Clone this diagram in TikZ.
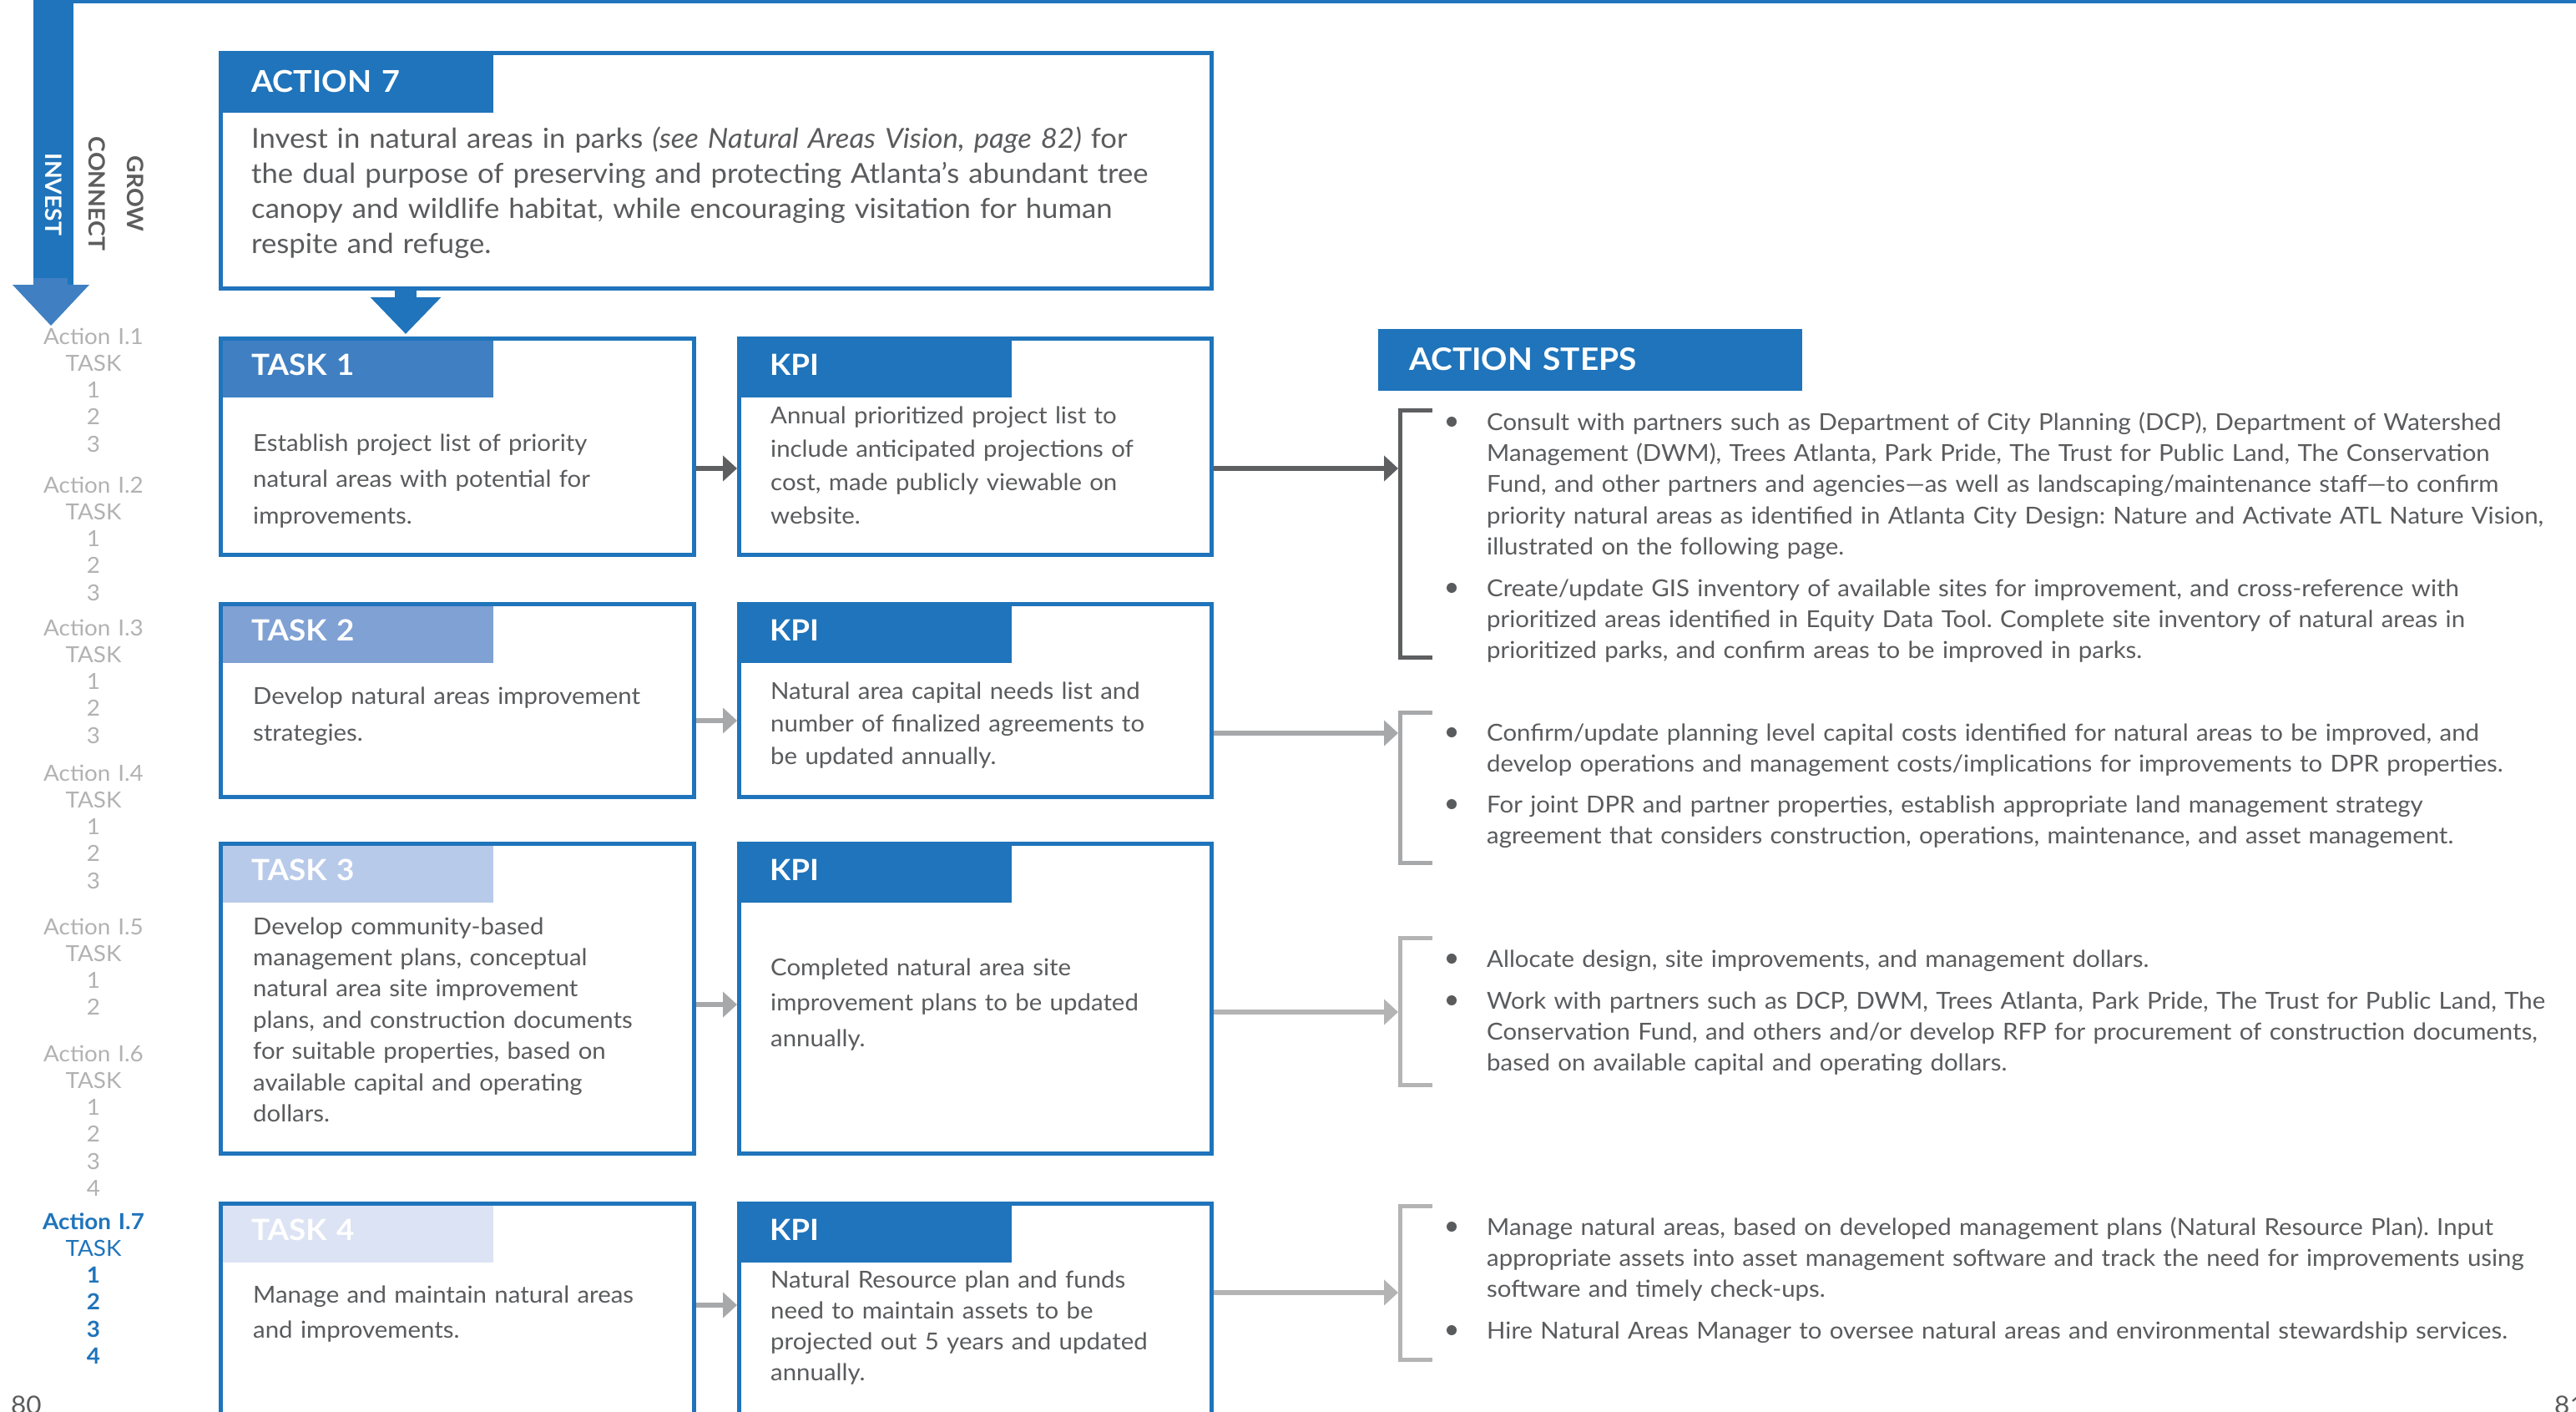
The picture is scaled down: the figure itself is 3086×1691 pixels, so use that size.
\documentclass[tikz,border=0pt]{standalone}
\usepackage{fontspec}
\setmainfont{Lato}[FakeStretch=1.05]
\usetikzlibrary{arrows.meta}

\definecolor{pblue}{HTML}{1F74BB}
\definecolor{plight}{HTML}{3F7FC2}
\definecolor{hdone}{HTML}{3F7FC2}
\definecolor{hdtwo}{HTML}{7FA1D4}
\definecolor{hdthree}{HTML}{B8CAE9}
\definecolor{hdfour}{HTML}{DCE3F4}
\definecolor{ptext}{HTML}{5A5B5D}
\definecolor{pdark}{HTML}{5E5F61}
\definecolor{pgrey}{HTML}{A7A8AA}
\definecolor{pgreyl}{HTML}{B4B4B4}
\definecolor{pside}{HTML}{B2B2B2}
\definecolor{pword}{HTML}{5D5D5D}

\newcommand\hdfont{\fontsize{35}{40}\selectfont\bfseries}
\newcommand\bodyfont[1]{\fontsize{28}{#1}\selectfont}
\frenchspacing

\begin{document}
\begin{tikzpicture}[x=1pt,y=-1pt,
  box/.style={draw=pblue, line width=5pt, outer sep=2.5pt, inner sep=0pt,
    anchor=north west, fill=white},
  head/.style={anchor=north west, inner xsep=34pt, inner ysep=0pt,
    minimum height=68pt, text width=256pt, align=left, text=white,
    font=\hdfont, text height=25pt, text depth=11pt},
  body/.style={anchor=base west, inner sep=0pt, text width=#1, align=left,
    text=ptext},
  side/.style={anchor=base, inner sep=0pt, text width=200pt, align=center,
    text=pside, font=\fontsize{26.5}{32.3}\selectfont},
  word/.style={rotate=-90, inner sep=0pt, font=\fontsize{27}{30}\selectfont\bfseries},
  brk/.style={line width=5pt, line cap=butt, line join=miter},
  brknode/.style={anchor=north west, inner sep=0pt, outer sep=0pt, minimum width=41pt},
  flow/.style={line width=6.5pt, -{Triangle[length=17pt,width=30pt]}},
  dot/.style={circle, fill=ptext, inner sep=0pt, minimum size=12pt},
  pagenum/.style={anchor=base west, inner sep=0pt, text=ptext, font=\fontsize{30}{30}\selectfont}
]
\useasboundingbox (0,0) rectangle (3086,1691);
\fill[white] (0,0) rectangle (3086,1691);

% top rule and the INVEST column with its arrow head
\fill[pblue] (40,0) rectangle (3086,4);
\fill[pblue] (40,0) rectangle (88,341);
\fill[plight] (40,333) rectangle (81,341);
\fill[plight] (15,341) -- (107,341) -- (61,390) -- cycle;
\node[word, text=white] (invest) at (64,233) {INVEST};
\node[word, text=pword] (connect) at (116,232) {CONNECT};
\node[word, text=pword] (grow) at (162,232) {GROW};

% side index
\node[side] (s1) at (112,412) {Action I.1\\TASK\\1\\2\\3};
\node[side] (s2) at (112,590) {Action I.2\\TASK\\1\\2\\3};
\node[side] (s3) at (112,761) {Action I.3\\TASK\\1\\2\\3};
\node[side] (s4) at (112,935) {Action I.4\\TASK\\1\\2\\3};
\node[side] (s5) at (112,1119) {Action I.5\\TASK\\1\\2};
\node[side] (s6) at (112,1271) {Action I.6\\TASK\\1\\2\\3\\4};
\node[side, text=pblue] (s7) at (112,1472) {\textbf{Action I.7}\\TASK\\\textbf{1}\\\textbf{2}\\\textbf{3}\\\textbf{4}};

% action box
\node[box, minimum width=1187pt, minimum height=282pt] (act) at (262,61) {};
\node[head, fill=pblue, text height=27pt, text depth=8pt, minimum height=69pt,
  font=\fontsize{36}{40}\selectfont\bfseries] (acth) at ([xshift=5pt,yshift=-5pt]act.north west) {ACTION 7};
\node[body=1120pt, font=\fontsize{33}{42}\selectfont] (actt) at (301,177)
  {Invest in natural areas in parks \textit{(see Natural Areas Vision, page 82)} for\\
   the dual purpose of preserving and protecting Atlanta’s abundant tree\\
   canopy and wildlife habitat, while encouraging visitation for human\\
   respite and refuge.};

% task and KPI boxes
\node[box, minimum width=567pt, minimum height=259pt] (t1) at (262,403) {};
\node[box, minimum width=566pt, minimum height=259pt] (k1) at (883,403) {};
\node[box, minimum width=567pt, minimum height=231pt] (t2) at (262,721) {};
\node[box, minimum width=566pt, minimum height=231pt] (k2) at (883,721) {};
\node[box, minimum width=567pt, minimum height=371pt] (t3) at (262,1008) {};
\node[box, minimum width=566pt, minimum height=371pt] (k3) at (883,1008) {};
\node[box, minimum width=567pt, minimum height=340pt] (t4) at (262,1439) {};
\node[box, minimum width=566pt, minimum height=340pt] (k4) at (883,1439) {};

\node[head, fill=hdone] (t1h) at ([xshift=5pt,yshift=-5pt]t1.north west) {TASK 1};
\node[head, fill=pblue] (k1h) at ([xshift=5pt,yshift=-5pt]k1.north west) {KPI};
\node[head, fill=hdtwo] (t2h) at ([xshift=5pt,yshift=-5pt]t2.north west) {TASK 2};
\node[head, fill=pblue] (k2h) at ([xshift=5pt,yshift=-5pt]k2.north west) {KPI};
\node[head, fill=hdthree] (t3h) at ([xshift=5pt,yshift=-5pt]t3.north west) {TASK 3};
\node[head, fill=pblue] (k3h) at ([xshift=5pt,yshift=-5pt]k3.north west) {KPI};
\node[head, fill=hdfour] (t4h) at ([xshift=5pt,yshift=-5pt]t4.north west) {TASK 4};
\node[head, fill=pblue] (k4h) at ([xshift=5pt,yshift=-5pt]k4.north west) {KPI};

\node[body=520pt, font=\bodyfont{43.5}] (t1t) at (303,540)
  {Establish project list of priority\\natural areas with potential for\\improvements.};
\node[body=520pt, font=\bodyfont{40}] (k1t) at (923,507)
  {Annual prioritized project list to\\include anticipated projections of\\cost, made publicly viewable on\\website.};
\node[body=520pt, font=\bodyfont{44}] (t2t) at (303,843)
  {Develop natural areas improvement\\strategies.};
\node[body=520pt, font=\bodyfont{39}] (k2t) at (923,837)
  {Natural area capital needs list and\\number of finalized agreements to\\be updated annually.};
\node[body=520pt, font=\bodyfont{37.4}] (t3t) at (303,1119)
  {Develop community-based\\management plans, conceptual\\natural area site improvement\\plans, and construction documents\\for suitable properties, based on\\available capital and operating\\dollars.};
\node[body=520pt, font=\bodyfont{42.5}] (k3t) at (923,1168)
  {Completed natural area site\\improvement plans to be updated\\annually.};
\node[body=520pt, font=\bodyfont{42}] (t4t) at (303,1560)
  {Manage and maintain natural areas\\and improvements.};
\node[body=520pt, font=\bodyfont{37}] (k4t) at (923,1542)
  {Natural Resource plan and funds\\need to maintain assets to be\\projected out 5 years and updated\\annually.};

% action to first task
\draw[pblue, line width=26pt, -{Triangle[length=44pt,width=82pt]}, shorten >=3pt]
  ([xshift=224pt]act.south west) -- ([xshift=224pt]t1.north west);

% task to KPI
\draw[flow, pdark] ([yshift=-158pt]t1.north east) -- ([yshift=-158pt]k1.north west);
\draw[flow, pgrey] ([yshift=-142pt]t2.north east) -- ([yshift=-142pt]k2.north west);
\draw[flow, pgrey] ([yshift=-195pt]t3.north east) -- ([yshift=-195pt]k3.north west);
\draw[flow, pgrey] ([yshift=-124pt]t4.north east) -- ([yshift=-124pt]k4.north west);

% action steps
\node[anchor=north west, fill=pblue, inner xsep=37pt, inner ysep=0pt, minimum height=74pt,
  text width=434pt, align=left, text=white, font=\fontsize{37}{40}\selectfont\bfseries,
  text height=26pt, text depth=2pt] (steps) at (1651,394) {ACTION STEPS};

\node[brknode, minimum height=301pt] (b1) at (1675,489) {};
\node[brknode, minimum height=185pt] (b2) at (1675,851) {};
\node[brknode, minimum height=181pt] (b3) at (1675,1121) {};
\node[brknode, minimum height=189pt] (b4) at (1675,1442) {};
\draw[brk, pdark] ([yshift=-2.5pt]b1.north east) -| ([xshift=2.5pt]b1.west) |- ([yshift=2.5pt]b1.south east);
\draw[brk, pgrey] ([yshift=-2.5pt]b2.north east) -| ([xshift=2.5pt]b2.west) |- ([yshift=2.5pt]b2.south east);
\draw[brk, pgreyl] ([yshift=-2.5pt]b3.north east) -| ([xshift=2.5pt]b3.west) |- ([yshift=2.5pt]b3.south east);
\draw[brk, pgreyl] ([yshift=-2.5pt]b4.north east) -| ([xshift=2.5pt]b4.west) |- ([yshift=2.5pt]b4.south east);

\coordinate (c1) at ([yshift=-158pt]k1.north east);
\coordinate (c2) at ([yshift=-157pt]k2.north east);
\coordinate (c3) at ([yshift=-204pt]k3.north east);
\coordinate (c4) at ([yshift=-109pt]k4.north east);
\draw[flow, pdark] (c1) -- (b1.west |- c1);
\draw[flow, pgrey] (c2) -- (b2.west |- c2);
\draw[flow, pgreyl] (c3) -- (b3.west |- c3);
\draw[flow, pgreyl] (c4) -- (b4.west |- c4);

\node[dot] (d1a) at (1739,505) {};
\node[dot] (d1b) at (1739,704) {};
\node[dot] (d2a) at (1739,877) {};
\node[dot] (d2b) at (1739,963) {};
\node[dot] (d3a) at (1739,1148) {};
\node[dot] (d3b) at (1739,1198) {};
\node[dot] (d4a) at (1739,1469) {};
\node[dot] (d4b) at (1739,1593) {};

\node[body=1295pt, font=\bodyfont{37.4}] (x1a) at (1781,515)
  {Consult with partners such as Department of City Planning (DCP), Department of Watershed\\
   Management (DWM), Trees Atlanta, Park Pride, The Trust for Public Land, The Conservation\\
   Fund, and other partners and agencies—as well as landscaping/maintenance staff—to confirm\\
   priority natural areas as identified in Atlanta City Design: Nature and Activate ATL Nature Vision,\\
   illustrated on the following page.};
\node[body=1295pt, font=\bodyfont{37.4}] (x1b) at (1781,714)
  {Create/update GIS inventory of available sites for improvement, and cross-reference with\\
   prioritized areas identified in Equity Data Tool. Complete site inventory of natural areas in\\
   prioritized parks, and confirm areas to be improved in parks.};
\node[body=1295pt, font=\bodyfont{37.4}] (x2a) at (1781,887)
  {Confirm/update planning level capital costs identified for natural areas to be improved, and\\
   develop operations and management costs/implications for improvements to DPR properties.};
\node[body=1295pt, font=\bodyfont{37.4}] (x2b) at (1781,973)
  {For joint DPR and partner properties, establish appropriate land management strategy\\
   agreement that considers construction, operations, maintenance, and asset management.};
\node[body=1295pt, font=\bodyfont{37.4}] (x3a) at (1781,1158)
  {Allocate design, site improvements, and management dollars.};
\node[body=1295pt, font=\bodyfont{37.4}] (x3b) at (1781,1208)
  {Work with partners such as DCP, DWM, Trees Atlanta, Park Pride, The Trust for Public Land, The\\
   Conservation Fund, and others and/or develop RFP for procurement of construction documents,\\
   based on available capital and operating dollars.};
\node[body=1295pt, font=\bodyfont{37.4}] (x4a) at (1781,1479)
  {Manage natural areas, based on developed management plans (Natural Resource Plan). Input\\
   appropriate assets into asset management software and track the need for improvements using\\
   software and timely check-ups.};
\node[body=1295pt, font=\bodyfont{37.4}] (x4b) at (1781,1603)
  {Hire Natural Areas Manager to oversee natural areas and environmental stewardship services.};

% page numbers
\node[pagenum] (p80) at (13,1693) {80};
\node[pagenum] (p81) at (3060,1693) {81};
\end{tikzpicture}
\end{document}
